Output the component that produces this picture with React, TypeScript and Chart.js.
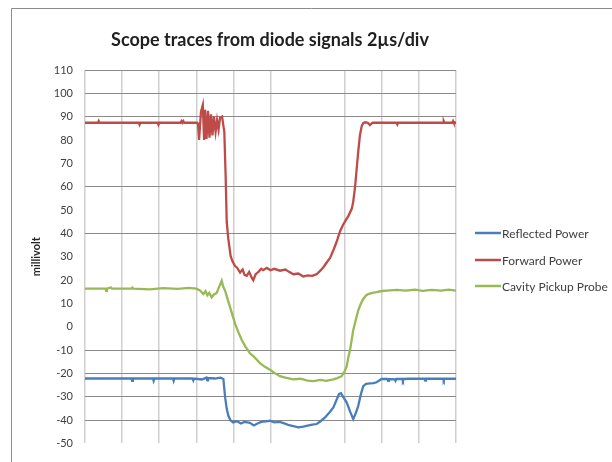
import React, { useEffect, useRef } from "react";
import { Chart, registerables } from "chart.js";

Chart.register(...registerables);

const titleText = "Scope traces from diode signals 2µs/div";
const yAxisTitle = "millivolt";
const seriesNames = ["Reflected Power", "Forward Power", "Cavity Pickup Probe"];
const seriesColors = ["#4a7ebb", "#be4b48", "#98b954"];

const yMin = -50;
const yMax = 110;
const yStep = 10;
const xMin = 0;
const xMax = 20;
const xStep = 2;

// gridlines that are visible in the reference
const visibleYGrid = [110, 100, 90, 60, 40, -10, -20, -30, -40];
const hiddenXGrid = [12];

// time (µs) and value (mV) samples
const reflectedT = [0, 2.5, 2.54, 2.58, 3.66, 3.7, 3.74, 4.74, 4.78, 4.82, 5.8, 5.84, 5.88, 6.3, 6.55, 6.59, 6.63, 7.0, 7.3, 7.46, 7.55, 7.64, 7.73, 7.85, 7.99, 8.2, 8.4, 8.6, 8.89, 9.1, 9.3, 9.5, 9.75, 9.97, 10.2, 10.5, 10.78, 11.0, 11.23, 11.5, 11.77, 12.0, 12.25, 12.49, 12.7, 12.94, 13.2, 13.39, 13.55, 13.7, 13.8, 13.95, 14.11, 14.3, 14.46, 14.6, 14.73, 14.87, 15.0, 15.15, 15.36, 15.55, 15.72, 15.99, 16.3, 16.34, 16.38, 16.7, 16.74, 16.78, 17.1, 17.14, 17.18, 17.5, 18.3, 18.34, 18.38, 19.3, 19.34, 19.38, 20];
const reflectedV = [-22.2, -22.2, -23.2, -22.2, -22.2, -23.2, -22.2, -22.2, -23.2, -22.2, -22.2, -23.0, -22.2, -22.6, -21.8, -23.0, -22.0, -22.2, -21.8, -22.4, -30, -35.2, -38.2, -40.2, -41, -40.5, -41.5, -40.8, -41.2, -42.3, -41.5, -40.8, -40.6, -40.3, -41.0, -40.8, -41.5, -42.2, -42.6, -43.1, -42.8, -42.4, -42.0, -41.7, -40.5, -38.9, -36.5, -34.6, -31.5, -28.8, -28.5, -30.5, -32.5, -36.5, -39.6, -37.0, -33.9, -29.0, -25.5, -24.5, -24.3, -24.2, -23.8, -22.4, -22.4, -23.2, -22.4, -22.6, -23.2, -22.4, -22.4, -23.1, -22.4, -22.3, -22.3, -23.1, -22.3, -22.3, -23.0, -22.3, -22.3];

const forwardT = [0, 0.7, 0.74, 0.78, 2.9, 2.94, 2.98, 3.92, 3.96, 4.0, 5.15, 5.2, 5.25, 5.3, 5.35, 6.05, 6.09, 6.15, 6.25, 6.35, 6.42, 6.47, 6.55, 6.63, 6.71, 6.79, 6.87, 6.95, 7.04, 7.12, 7.2, 7.28, 7.39, 7.47, 7.51, 7.58, 7.64, 7.72, 7.85, 7.95, 8.09, 8.2, 8.36, 8.5, 8.6, 8.72, 8.85, 9.0, 9.07, 9.2, 9.35, 9.5, 9.61, 9.8, 10.0, 10.2, 10.51, 10.8, 11.0, 11.23, 11.5, 11.77, 12.0, 12.25, 12.49, 12.67, 12.85, 13.03, 13.21, 13.4, 13.57, 13.75, 13.9, 14.02, 14.2, 14.38, 14.46, 14.56, 14.65, 14.73, 14.82, 14.92, 15.0, 15.1, 15.25, 15.36, 15.5, 15.63, 16.8, 16.84, 16.88, 19.3, 19.34, 19.38, 19.8, 19.84, 19.88, 20];
const forwardV = [87.4, 87.4, 88.1, 87.4, 87.4, 86.6, 87.4, 87.4, 86.6, 87.4, 87.4, 88.1, 87.4, 88.1, 87.4, 87.4, 87, 80, 92, 95, 80, 93, 80.5, 92.5, 81, 91, 82, 90, 83.5, 88.5, 84.5, 89.5, 90, 85.5, 83.5, 65, 45, 38, 30.3, 28, 26, 25.3, 23.2, 24.5, 22.2, 21.8, 23.5, 20.8, 19.9, 22.5, 23.5, 24.8, 24.2, 25.2, 24.2, 24.8, 24.0, 24.5, 23.5, 22.5, 22.8, 21.5, 22.0, 21.8, 22.5, 23.9, 25.5, 27.5, 29.5, 33, 36.5, 40.9, 43.5, 45.1, 47.5, 50.5, 53.6, 60, 68, 75, 82, 86, 87.2, 87.6, 87.4, 86.4, 87.4, 87.4, 87.4, 86.7, 87.4, 87.4, 88.1, 87.4, 87.4, 88.1, 87.4, 87.4];

const cavityT = [0, 1.1, 1.14, 1.18, 1.4, 1.45, 2.5, 2.55, 2.6, 3.5, 4.2, 5.0, 5.6, 6.0, 6.2, 6.38, 6.5, 6.6, 6.7, 6.83, 6.95, 7.1, 7.25, 7.37, 7.45, 7.55, 7.7, 7.82, 7.95, 8.09, 8.25, 8.45, 8.65, 8.89, 9.1, 9.43, 9.7, 9.97, 10.25, 10.51, 10.8, 11.23, 11.6, 12.0, 12.31, 12.7, 13.0, 13.39, 13.6, 13.84, 14.0, 14.11, 14.2, 14.29, 14.46, 14.6, 14.73, 14.85, 15.0, 15.15, 15.27, 15.5, 15.72, 16.0, 16.26, 16.8, 17.3, 17.8, 18.2, 18.7, 19.2, 19.6, 20];
const cavityV = [16.3, 16.3, 15.4, 16.3, 16.8, 16.3, 16.3, 16.8, 16.3, 16.0, 16.5, 16.2, 16.6, 16.3, 15.5, 14.0, 15.2, 13.5, 14.5, 12.6, 13.8, 14.5, 17.5, 19.7, 17.2, 15.5, 11.5, 8.4, 5.0, 1.3, -2.0, -5.7, -8.5, -11.4, -12.8, -15.6, -17.2, -18.4, -20.0, -21.2, -21.8, -22.6, -22.3, -23.1, -23.3, -22.8, -23.2, -22.6, -22.0, -21.2, -19.0, -17.0, -13.0, -9.9, -1.5, 3.0, 7.0, 9.5, 11.9, 13.4, 14.0, 14.5, 14.8, 15.3, 15.5, 15.8, 15.5, 15.9, 15.4, 15.8, 15.5, 15.9, 15.5];

const toPoints = (ts: number[], vs: number[]) => ts.map((t, i) => ({ x: t, y: vs[i] }));

const decorPlugin = {
  id: "decor",
  beforeDraw(chart: any) {
    const ctx = chart.ctx;
    ctx.save();
    ctx.fillStyle = "#ffffff";
    ctx.fillRect(0, 0, chart.width, chart.height);
    ctx.strokeStyle = "#8c8c8c";
    ctx.lineWidth = 1;
    ctx.beginPath();
    ctx.moveTo(11.5, chart.height);
    ctx.lineTo(11.5, 8.5);
    ctx.lineTo(chart.width, 8.5);
    ctx.stroke();
    ctx.restore();
  },
  afterDraw(chart: any) {
    const ctx = chart.ctx;
    ctx.save();
    ctx.fillStyle = "#1f1f1f";
    ctx.font = "bold 18px Lato";
    ctx.textAlign = "center";
    ctx.textBaseline = "middle";
    ctx.fillText(titleText, 270, 40);

    const rows = [233, 260, 286];
    ctx.font = "12px Lato";
    ctx.textAlign = "left";
    seriesNames.forEach((name, i) => {
      ctx.strokeStyle = seriesColors[i];
      ctx.lineWidth = 2.5;
      ctx.beginPath();
      ctx.moveTo(475, rows[i]);
      ctx.lineTo(501, rows[i]);
      ctx.stroke();
      ctx.fillStyle = "#404040";
      ctx.fillText(name, 502, rows[i] + 1);
    });
    ctx.restore();
  },
};

export default function App() {
  const ref = useRef<HTMLCanvasElement | null>(null);
  useEffect(() => {
    if (!ref.current) return;
    const series = [
      toPoints(reflectedT, reflectedV),
      toPoints(forwardT, forwardV),
      toPoints(cavityT, cavityV),
    ];
    const chart = new Chart(ref.current, {
      type: "line",
      data: {
        datasets: seriesNames.map((name, i) => ({
          label: name,
          data: series[i],
          borderColor: seriesColors[i],
          backgroundColor: seriesColors[i],
          borderWidth: 2.3,
          pointRadius: 0,
          tension: 0,
        })),
      },
      options: {
        responsive: false,
        animation: false,
        layout: { padding: { left: 12, right: 156, top: 70, bottom: 14 } },
        plugins: {
          legend: { display: false },
          title: { display: false },
          tooltip: { enabled: false },
        },
        scales: {
          x: {
            type: "linear",
            min: xMin,
            max: xMax,
            ticks: { display: false, stepSize: xStep },
            border: { display: false },
            grid: {
              drawTicks: false,
              lineWidth: 1.5,
              color: (c: any) =>
                c.tick && hiddenXGrid.includes(c.tick.value) ? "rgba(0,0,0,0)" : "#cfcfcf",
            },
            afterFit: (s: any) => {
              s.height = 0;
            },
          },
          y: {
            min: yMin,
            max: yMax,
            ticks: {
              stepSize: yStep,
              padding: 12,
              color: "#404040",
              font: { family: "Lato", size: 11 },
            },
            border: { display: false },
            grid: {
              drawTicks: false,
              color: (c: any) =>
                c.tick && visibleYGrid.includes(c.tick.value) ? "#8a8a8a" : "rgba(0,0,0,0)",
            },
            title: {
              display: true,
              text: yAxisTitle,
              color: "#262626",
              font: { family: "Lato", size: 11, weight: "bold" },
              padding: { top: 18, bottom: 0 },
            },
            afterFit: (s: any) => {
              s.width = 73;
            },
          },
        },
      },
      plugins: [decorPlugin],
    });
    return () => chart.destroy();
  }, []);
  return (
    <div style={{ position: "absolute", left: 0, top: 0, width: 612, height: 462, background: "#fff" }}>
      <canvas ref={ref} width={612} height={462} />
    </div>
  );
}
